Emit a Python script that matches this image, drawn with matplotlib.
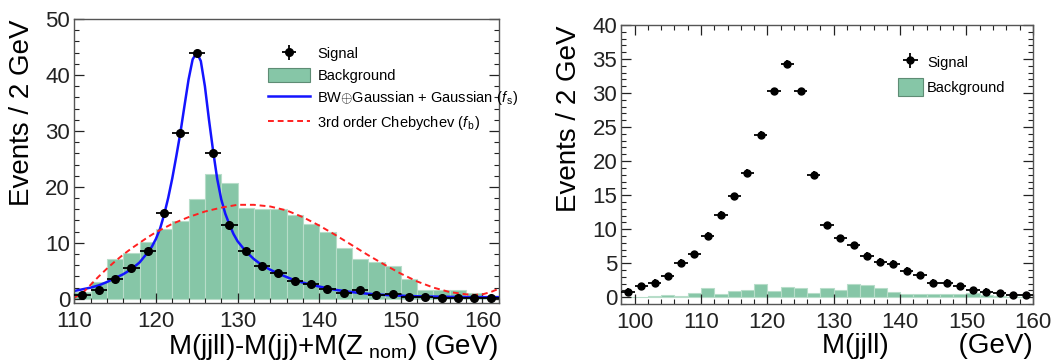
import matplotlib
matplotlib.use('Agg')
import matplotlib.pyplot as plt
import numpy as np
from matplotlib.ticker import MultipleLocator

plt.rcParams['font.family'] = ['Liberation Sans', 'DejaVu Sans']
plt.rcParams['mathtext.fontset'] = 'custom'
plt.rcParams['mathtext.rm'] = 'Liberation Sans'
plt.rcParams['mathtext.it'] = 'Liberation Sans:italic'

# ---- left panel data (2 GeV bins, 110-162) ----
left_edges = np.arange(110, 164, 2)
left_centers = np.arange(111, 163, 2)
left_bkg = [1.2, 3.0, 7.1, 8.1, 10.2, 12.4, 13.9, 17.9, 22.3, 20.7, 16.2, 16.1, 16.0,
            15.0, 13.4, 12.0, 9.0, 7.2, 6.6, 5.8, 3.6, 1.6, 1.6, 1.5, 1.0, 0.5]
left_sig = [0.6, 1.5, 3.5, 5.5, 8.5, 15.4, 29.7, 43.9, 26.0, 13.2, 8.5, 5.8, 4.6,
            3.1, 2.6, 1.8, 1.1, 1.5, 0.6, 0.8, 0.3, 0.35, 0.2, 0.1, 0.1, 0.1]

# signal fit curve
fs_x = [110, 111, 112, 113, 114, 115, 116, 117, 118, 119, 119.5, 120, 120.5, 121, 121.5,
        122, 122.5, 123, 123.5, 124, 124.5, 125, 125.5, 126, 126.5, 127, 127.5, 128,
        128.5, 129, 129.5, 130, 131, 132, 133, 134, 135, 136, 137, 138, 139, 140, 141,
        142, 143, 144, 145, 146, 148, 150, 152, 154, 156, 158, 160, 162]
fs_y = [1.4, 1.7, 2.0, 2.4, 3.0, 3.7, 4.4, 5.3, 6.5, 8.3, 9.3, 10.7, 12.5, 15.0, 18.0,
        21.5, 25.5, 29.7, 34.5, 39.2, 42.8, 44.0, 42.5, 38.0, 32.0, 26.5, 21.5, 17.8,
        15.2, 13.3, 11.6, 10.3, 8.5, 7.1, 6.0, 5.2, 4.5, 3.9, 3.3, 2.9, 2.5, 2.2, 1.9,
        1.6, 1.4, 1.2, 1.05, 0.9, 0.7, 0.55, 0.45, 0.4, 0.35, 0.3, 0.3, 0.3]

# background fit curve
fb_x = [110, 111, 112, 113, 114, 115, 116, 117, 118, 119, 120, 122, 124, 126, 128, 130,
        132, 134, 136, 138, 140, 142, 144, 146, 148, 150, 152, 154, 156, 158, 159, 160,
        161, 162]
fb_y = [0.2, 1.0, 2.5, 4.0, 5.4, 6.7, 7.9, 9.0, 10.0, 11.0, 11.9, 13.4, 14.6, 15.6, 16.3,
        16.8, 16.8, 16.5, 15.8, 14.6, 13.1, 11.4, 9.6, 7.8, 6.1, 4.5, 3.1, 2.0, 1.2, 0.8,
        0.7, 0.8, 1.2, 1.8]

# ---- right panel data (2 GeV bins, 98-160) ----
right_edges = np.arange(98, 162, 2)
right_centers = np.arange(99, 161, 2)
right_bkg = [0.0, 0.1, 0.2, 0.35, 0.2, 0.55, 1.4, 0.4, 0.9, 1.0, 1.95, 0.95, 1.55, 1.3,
             0.65, 1.4, 1.1, 1.9, 1.8, 1.3, 0.8, 0.5, 0.5, 0.45, 0.4, 0.5, 0.55, 0.3,
             0.15, 0.05, 0.0]
right_sig = [0.8, 1.6, 2.15, 3.1, 5.1, 6.3, 9.05, 12.1, 14.8, 18.3, 23.9, 30.3, 34.3,
             30.3, 18.0, 10.6, 8.7, 7.6, 6.1, 5.2, 4.9, 3.9, 3.2, 2.15, 2.15, 1.6, 1.0,
             0.8, 0.55, 0.3, 0.3]

green = '#86c6a7'
edge = '#b7ddc9'

fig = plt.figure(figsize=(10.64, 3.63), dpi=100)
ax1 = fig.add_axes([0.0698, 0.1645, 0.399, 0.783])
ax2 = fig.add_axes([0.584, 0.1625, 0.3867, 0.7686])


def style_axes(ax, top_ticks):
    ax.tick_params(which='both', direction='in', right=True, top=top_ticks,
                   labelsize=16, colors='#222222')
    ax.tick_params(which='major', length=7, width=0.9)
    ax.tick_params(which='minor', length=3.5, width=0.8)
    ax.tick_params(axis='y', pad=3)
    ax.tick_params(axis='x', pad=5.5)
    for s in ax.spines.values():
        s.set_color('#555555')
        s.set_linewidth(1.0)


# left panel
ax1.bar(left_edges[:-1], left_bkg, width=2, align='edge', color=green,
        edgecolor=edge, linewidth=0.8, label='Background')
ax1.plot(fs_x, fs_y, color='#1414ff', lw=1.8,
         label=r'BW$\oplus$Gaussian + Gaussian ($f_{\,\rm s}$)')
ax1.plot(fb_x, fb_y, color='#ff2020', lw=1.4, ls=(0, (3, 2)),
         label=r'3rd order Chebychev ($f_{\,\rm b}$)')
ax1.errorbar(left_centers, left_sig, xerr=1, yerr=0.3, fmt='o', color='black',
             ms=5.5, elinewidth=1.3, capsize=0, label='Signal', zorder=5)
ax1.set_xlim(110, 162)
ax1.set_ylim(-0.8, 50)
ax1.xaxis.set_major_locator(MultipleLocator(10))
ax1.xaxis.set_minor_locator(MultipleLocator(2))
ax1.yaxis.set_major_locator(MultipleLocator(10))
ax1.yaxis.set_minor_locator(MultipleLocator(2))
style_axes(ax1, False)
ax1.set_ylabel('Events / 2 GeV', fontsize=20, loc='top')
ax1.yaxis.set_label_coords(-0.093, 1.0)
ax1.set_xlabel(r'M(jjll)-M(jj)+M(Z$_{\rm \ nom}$) (GeV)', fontsize=20, loc='right')
ax1.xaxis.set_label_coords(1.0, -0.1)

h, l = ax1.get_legend_handles_labels()
order = [3, 2, 0, 1]  # Signal, Background, f_s, f_b
ax1.legend([h[i] for i in order], [l[i] for i in order], loc='upper left',
           bbox_to_anchor=(0.425, 0.95), frameon=False, fontsize=10.5,
           handlelength=2.9, handleheight=1.1, handletextpad=0.5, labelspacing=0.45)
ax1.get_legend().legend_handles[1].set_edgecolor('#5e8c74')

# right panel
ax2.bar(right_edges[:-1], right_bkg, width=2, align='edge', color=green,
        edgecolor=edge, linewidth=0.8, label='Background')
ax2.errorbar(right_centers, right_sig, xerr=1, yerr=0.5, fmt='o', color='black',
             ms=5, elinewidth=1.3, capsize=0, label='Signal', zorder=5)
ax2.set_xlim(98, 160)
ax2.set_ylim(-1, 40)
ax2.xaxis.set_major_locator(MultipleLocator(10))
ax2.xaxis.set_minor_locator(MultipleLocator(2))
ax2.yaxis.set_major_locator(MultipleLocator(5))
ax2.yaxis.set_minor_locator(MultipleLocator(1))
style_axes(ax2, True)
ax2.set_ylabel('Events / 2 GeV', fontsize=20, loc='top')
ax2.yaxis.set_label_coords(-0.096, 1.0)
ax2.set_xlabel('M(jjll)         (GeV)', fontsize=20, loc='right')
ax2.xaxis.set_label_coords(1.0, -0.105)

h2, l2 = ax2.get_legend_handles_labels()
ax2.legend([h2[1], h2[0]], [l2[1], l2[0]], loc='upper left',
           bbox_to_anchor=(0.64, 0.945), frameon=False, fontsize=10.5,
           handlelength=1.7, handleheight=1.5, handletextpad=0.3, labelspacing=0.45)
ax2.get_legend().legend_handles[1].set_edgecolor('#5e8c74')

fig.savefig('out.png', dpi=100)
